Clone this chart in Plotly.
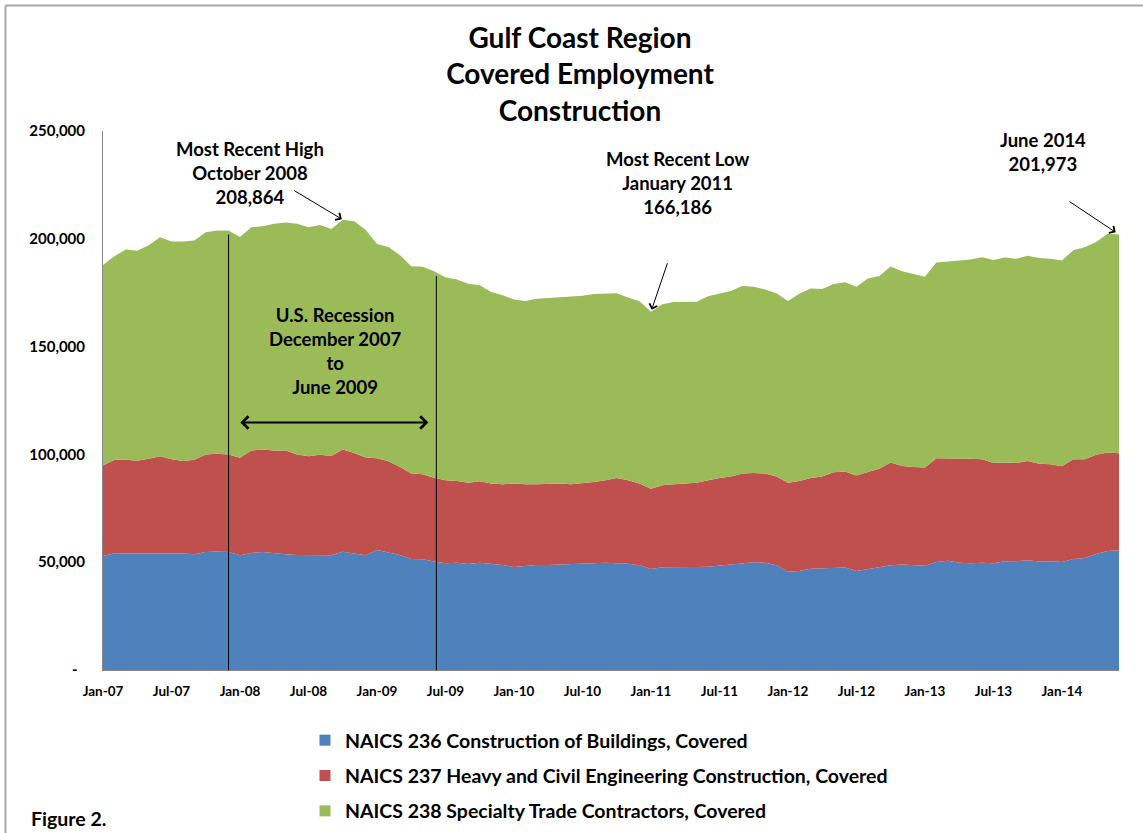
import plotly.graph_objects as go

W, H = 1143, 833
ML, MR, MT, MB = 103, 24, 131, 163

months = ["Jan", "Feb", "Mar", "Apr", "May", "Jun", "Jul", "Aug", "Sep", "Oct", "Nov", "Dec"]
years = ["07", "08", "09", "10", "11", "12", "13", "14"]
categories = [f"{m}-{y}" for y in years for m in months][:90]  # Jan-07 .. Jun-14

naics236 = [52900, 54100, 54000, 54000, 54100, 54300, 54100, 54000, 53700, 54700, 55000, 54700,
            53200, 54300, 54700, 54100, 53700, 53300, 53200, 53200, 53200, 54900, 54000, 53200,
            55700, 54400, 53300, 51500, 51400, 50300, 49500, 49800, 49200, 49700, 49200, 48700,
            47800, 48400, 48700, 48700, 48900, 48900, 49300, 49500, 49800, 49500, 49300, 48600,
            46900, 47700, 47700, 47500, 47800, 47900, 48400, 48700, 49500, 50000, 49700, 48600,
            45600, 45900, 47000, 47200, 47500, 47500, 45900, 46900, 47700, 48600, 48900, 48700,
            48400, 50100, 50700, 49800, 49500, 49800, 49500, 50400, 50400, 50900, 50300, 50400,
            50100, 51500, 52000, 53800, 55200, 55500]
naics237 = [42000, 43400, 43500, 43100, 43900, 44800, 43600, 42900, 43800, 45300, 45300, 45300,
            45300, 47500, 47600, 47700, 48100, 46700, 45900, 46600, 46000, 47400, 46600, 45400,
            42500, 42400, 41000, 39600, 39400, 38900, 38500, 37900, 37600, 37800, 37300, 37400,
            38700, 37700, 37400, 37600, 37600, 37200, 37200, 37700, 38200, 39600, 38700, 37900,
            37200, 38000, 38400, 39000, 39100, 40100, 40700, 41100, 41600, 41400, 41400, 41200,
            41200, 41800, 42100, 42500, 44200, 44600, 44300, 44900, 45700, 47700, 45700, 45400,
            45500, 48100, 47500, 48500, 48500, 48000, 46500, 45900, 45600, 46000, 45400, 45000,
            44400, 46200, 45700, 46000, 45700, 45000]
naics238 = [92900, 94400, 97500, 97400, 99000, 101600, 101100, 101900, 101700, 103000, 103500, 103800,
            102300, 103600, 103500, 105200, 105800, 107000, 106200, 106600, 105300, 106564, 107500, 105600,
            99400, 99400, 98200, 96200, 96200, 95800, 94200, 93400, 92300, 91000, 88800, 87700,
            85400, 85000, 86100, 86200, 86500, 87200, 87100, 87200, 86500, 85600, 84800, 84500,
            82086, 83900, 84600, 84300, 83900, 85400, 85400, 86000, 87000, 86400, 85400, 84900,
            84300, 86800, 87900, 87000, 87300, 87700, 87600, 89800, 89300, 90800, 90400, 89600,
            88500, 90800, 91400, 91600, 92400, 93700, 94200, 95000, 94700, 95200, 95400, 95300,
            95400, 97000, 98400, 98700, 101500, 101473]

series_names = ["NAICS 236 Construction of Buildings, Covered",
                "NAICS 237 Heavy and Civil Engineering Construction, Covered",
                "NAICS 238 Specialty Trade Contractors, Covered"]
series_colors = ["#4F81BD", "#C0504D", "#9BBB59"]

y_tickvals = [0, 50000, 100000, 150000, 200000, 250000]
y_ticktext = ["-\u00a0\u00a0", "50,000", "100,000", "150,000", "200,000", "250,000"]

FONT = "Lato"
PW, PH = W - ML - MR, H - MT - MB


def px(x):
    """figure pixel x -> plot-area paper fraction"""
    return (x - ML) / PW


def py(y):
    """figure pixel y (from top) -> plot-area paper fraction"""
    return (H - MB - y) / PH


xs = list(range(len(categories)))
totals = [a + b + c for a, b, c in zip(naics236, naics237, naics238)]

fig = go.Figure()
for vals, name, col in zip([naics236, naics237, naics238], series_names, series_colors):
    fig.add_trace(go.Scatter(x=xs, y=vals, stackgroup="one", mode="lines",
                             line=dict(width=0, color=col), fillcolor=col,
                             name=name, showlegend=False, hoverinfo="skip"))
for i, (name, col) in enumerate(zip(series_names, series_colors)):
    fig.add_trace(go.Scatter(x=[None], y=[None], mode="markers",
                             marker=dict(symbol="square", size=11, color=col),
                             name=name, legendgroup=f"g{i}"))

i_high = categories.index("Oct-08")
i_low = categories.index("Jan-11")
i_last = len(categories) - 1
i_rec_start = categories.index("Dec-07")
i_rec_end = categories.index("Jun-09")

anns = []
txt = dict(family=FONT, size=18.5, color="black", weight="bold")
anns.append(dict(x=px(250), y=py(173), xref="paper", yref="paper",
                 text="Most Recent High<br>October 2008<br>208,864",
                 showarrow=False, font=txt, xanchor="center", yanchor="middle"))
anns.append(dict(x=px(335), y=py(351), xref="paper", yref="paper",
                 text="U.S. Recession<br>December 2007<br>to<br>June 2009",
                 showarrow=False, font=txt, xanchor="center", yanchor="middle"))
anns.append(dict(x=px(677), y=py(183), xref="paper", yref="paper",
                 text="Most Recent Low<br>January 2011<br>166,186",
                 showarrow=False, font=txt, xanchor="center", yanchor="middle"))
anns.append(dict(x=px(1043), y=py(152), xref="paper", yref="paper",
                 text="June 2014<br>201,973",
                 showarrow=False, font=txt, xanchor="center", yanchor="middle"))
anns.append(dict(x=px(29), y=py(818), xref="paper", yref="paper",
                 text="Figure 2.", showarrow=False,
                 font=dict(family=FONT, size=19.5, color="black", weight="bold"),
                 xanchor="left", yanchor="middle"))

arrow_style = dict(showarrow=True, arrowhead=4, arrowsize=1.6, arrowwidth=1,
                   arrowcolor="black", text="", xref="x", yref="y")
anns.append(dict(x=i_high, y=totals[i_high], ax=-50, ay=-30, standoff=1, **arrow_style))
anns.append(dict(x=i_low, y=totals[i_low], ax=17, ay=-50, standoff=2, **arrow_style))
anns.append(dict(x=i_last, y=totals[i_last], ax=-51, ay=-34, standoff=4, **arrow_style))
anns.append(dict(x=i_rec_end - 0.5, y=114800, ax=i_rec_start + 0.9, ay=114800,
                 axref="x", ayref="y", xref="x", yref="y", text="",
                 showarrow=True, arrowhead=4, startarrowhead=4, arrowside="end+start",
                 arrowsize=1.2, startarrowsize=1.2, arrowwidth=2, arrowcolor="black"))

shapes = [
    dict(type="line", xref="x", yref="y", x0=i_rec_start, x1=i_rec_start, y0=0, y1=202000,
         line=dict(color="black", width=1)),
    dict(type="line", xref="x", yref="y", x0=i_rec_end + 0.2, x1=i_rec_end + 0.2, y0=0, y1=182700,
         line=dict(color="black", width=1)),
    dict(type="line", xref="paper", yref="paper", x0=px(5.5), x1=px(1150), y0=py(5.5), y1=py(5.5),
         line=dict(color="#A6A6A6", width=2)),
    dict(type="line", xref="paper", yref="paper", x0=px(5.5), x1=px(5.5), y0=py(5.5), y1=py(840),
         line=dict(color="#A6A6A6", width=2)),
]

fig.update_layout(
    width=W, height=H,
    margin=dict(l=ML, r=MR, t=MT, b=MB, autoexpand=False),
    paper_bgcolor="white", plot_bgcolor="white",
    font=dict(family=FONT, color="black"),
    title=dict(text="Gulf Coast Region<br>Covered Employment<br>Construction",
               x=580 / W, y=1 - 48 / H, xanchor="center", yanchor="middle",
               xref="container", yref="container",
               font=dict(family=FONT, size=28, color="black", weight="bold")),
    xaxis=dict(range=[0, len(categories) - 1], tickvals=xs[::6],
               ticktext=categories[::6], showgrid=False, zeroline=False,
               showline=True, linecolor="#868686", linewidth=1,
               ticks="outside", ticklen=9, tickcolor="rgba(0,0,0,0)",
               tickfont=dict(family=FONT, size=13.5, color="black", weight="bold"), tickangle=0),
    yaxis=dict(range=[0, 250000], tickvals=y_tickvals, ticktext=y_ticktext,
               showgrid=False, zeroline=False, showline=True, linecolor="#868686",
               linewidth=1, ticks="outside", ticklen=14, tickcolor="rgba(0,0,0,0)",
               tickfont=dict(family=FONT, size=15, color="black", weight="bold")),
    legend=dict(x=px(305), y=py(721), xanchor="left", yanchor="top",
                traceorder="grouped", tracegroupgap=7, orientation="v",
                font=dict(family=FONT, size=19.5, color="black", weight="bold"),
                bgcolor="rgba(0,0,0,0)"),
    annotations=anns,
    shapes=shapes,
    showlegend=True,
)

fig.write_html("out.html", config={"displayModeBar": False},
               post_script="document.body.style.margin='0px';document.body.style.overflow='hidden';")
